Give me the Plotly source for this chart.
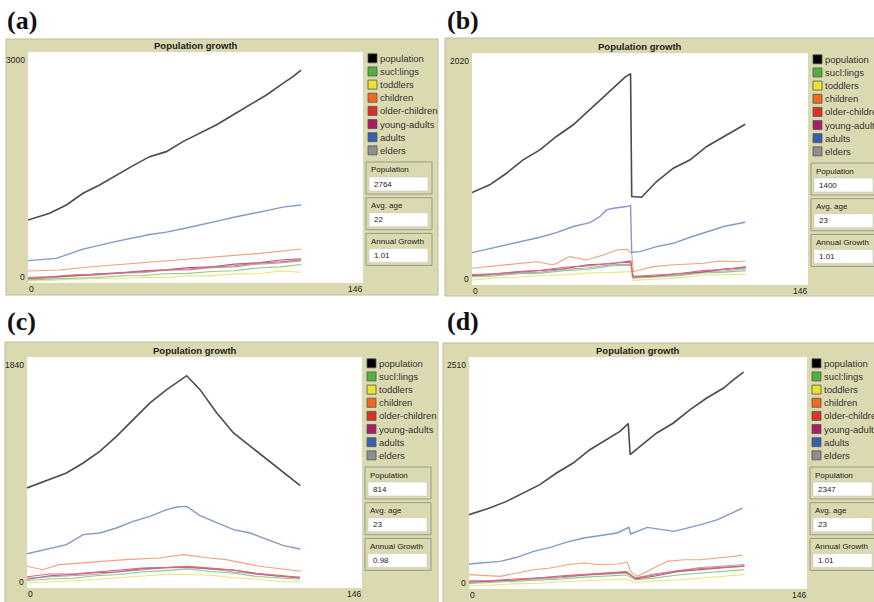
import plotly.graph_objects as go

W, H = 874, 602

# ---------------- data ----------------
legend_names = ["population", "sucl:lings", "toddlers", "children",
                "older-children", "young-adults", "adults", "elders"]
legend_colors = ["#000000", "#4fb23c", "#e8e431", "#f06a1e",
                 "#d8322a", "#a81c6a", "#3460b0", "#8e8e8e"]
line_colors = {"population": "#4b4b4b", "sucl:lings": "#8cca8a", "toddlers": "#ebe57c",
               "children": "#efa27c", "older-children": "#dc6a6e", "young-adults": "#b45a92",
               "adults": "#8299c9", "elders": "#a9a9b4"}

panel_labels = ["(a)", "(b)", "(c)", "(d)"]
y_max = [3000, 2020, 1840, 2510]
x_max = 146
monitor_titles = ["Population", "Avg. age", "Annual Growth"]
monitor_values = [["2764", "22", "1.01"], ["1400", "23", "1.01"],
                  ["814", "23", "0.98"], ["2347", "23", "1.01"]]

# panel (a)
a_t_pop = [0, 9.4, 16.7, 24, 31.2, 38.5, 45.8, 53, 60.3, 67.5, 74.8, 82, 89.3, 96.6, 103.9, 111.1, 115.5, 119]
a_pop = [818, 905, 1013, 1165, 1273, 1403, 1524, 1641, 1706, 1836, 1944, 2052, 2182, 2312, 2442, 2593, 2680, 2764]
a_t_adults = [0, 12.3, 24, 38.5, 53, 60.3, 67.5, 74.8, 82, 89.3, 96.6, 103.9, 111.1, 119]
a_adults = [290, 320, 440, 540, 630, 660, 705, 750, 800, 850, 895, 945, 985, 1013]
a_t_children = [0, 13.5, 28, 42.6, 57, 71.6, 78.9, 86, 100.7, 115, 119]
a_children = [156, 169, 212, 247, 277, 307, 333, 342, 385, 429, 441]
a_t_small = [0, 10, 20, 30, 40, 50, 60, 70, 80, 90, 100, 110, 119]
a_sucklings = [40, 48, 65, 72, 92, 98, 120, 125, 150, 160, 195, 210, 240]
a_toddlers = [25, 35, 42, 58, 55, 75, 72, 95, 92, 118, 120, 155, 140]
a_older = [75, 82, 105, 112, 135, 148, 172, 182, 210, 225, 260, 275, 300]
a_young = [55, 80, 92, 118, 128, 158, 170, 200, 212, 245, 262, 298, 315]
a_elders = [60, 66, 92, 100, 128, 135, 165, 170, 200, 210, 245, 260, 285]

# panel (b)
b_t_pop = [0, 7.7, 15, 22.2, 29.5, 36.7, 44, 51.2, 58.5, 62.9, 66.5, 68.9, 69.4, 73.7, 80.2, 87.5, 94.8, 102, 109.3, 118.7]
b_pop = [805, 872, 973, 1090, 1177, 1293, 1395, 1526, 1656, 1744, 1810, 1840, 770, 764, 901, 1017, 1090, 1206, 1293, 1400]
b_t_adults = [0, 15, 29.5, 36.7, 44, 51.2, 55.6, 58.5, 61.4, 67.2, 68.9, 69.4, 73, 80.2, 87.5, 94.8, 102, 109.3, 118.7]
b_adults = [282, 349, 416, 456, 509, 543, 596, 654, 668, 683, 692, 285, 291, 334, 363, 416, 465, 509, 546]
b_t_children = [0, 13.5, 28, 35.3, 42.5, 49.8, 57, 62.9, 67.2, 69.4, 70.1, 78.8, 86.1, 100.6, 107.8, 115.1, 118.7]
b_children = [146, 174, 203, 174, 247, 218, 262, 305, 311, 276, 116, 160, 174, 189, 209, 203, 209]
b_t_small = [0, 10, 20, 30, 40, 50, 60, 69, 70, 80, 90, 100, 110, 119]
b_sucklings = [70, 78, 98, 102, 125, 135, 165, 172, 60, 72, 82, 105, 112, 125]
b_toddlers = [45, 62, 68, 85, 88, 105, 108, 118, 40, 52, 62, 85, 88, 95]
b_older = [92, 98, 118, 128, 155, 165, 190, 198, 75, 88, 98, 125, 135, 160]
b_young = [82, 98, 108, 130, 142, 175, 185, 210, 70, 78, 100, 112, 140, 150]
b_elders = [80, 88, 105, 112, 138, 148, 175, 182, 65, 78, 88, 115, 122, 145]

# panel (c)
c_t_main = [0, 9.9, 17.2, 24.5, 31.7, 39, 46.3, 53.6, 60.9, 65.2, 69.6, 75.4, 82.7, 90, 97.3, 104.5, 111.8, 119.1]
c_pop = [797, 863, 916, 996, 1089, 1208, 1341, 1474, 1580, 1633, 1691, 1580, 1394, 1235, 1128, 1022, 916, 815]
c_adults = [273, 311, 345, 425, 438, 478, 531, 571, 624, 645, 650, 576, 518, 465, 438, 385, 337, 311]
c_t_children = [0, 6.7, 14, 28.5, 43, 57.6, 68, 79.5, 86.8, 101.3, 115.8, 119.5]
c_children = [173, 146, 186, 207, 226, 239, 266, 239, 226, 173, 141, 133]
c_t_small = [0, 10, 20, 30, 40, 50, 60, 70, 80, 90, 100, 110, 119]
c_sucklings = [60, 72, 78, 98, 108, 128, 138, 152, 132, 118, 92, 82, 70]
c_toddlers = [40, 48, 62, 68, 82, 92, 108, 108, 102, 82, 72, 52, 50]
c_older = [90, 112, 112, 128, 138, 158, 162, 172, 158, 142, 118, 102, 85]
c_young = [70, 98, 108, 122, 128, 154, 162, 168, 152, 143, 112, 98, 80]
c_elders = [80, 88, 102, 108, 132, 142, 162, 162, 152, 128, 112, 92, 85]

# panel (d)
d_t_pop = [0, 8.9, 16.2, 23.4, 30.6, 37.8, 45, 52.2, 59.5, 65.2, 68.8, 69.6, 73.9, 81.1, 88.3, 95.5, 102.7, 110, 114.3, 118.6]
d_pop = [804, 876, 948, 1039, 1129, 1255, 1363, 1507, 1615, 1706, 1789, 1453, 1543, 1688, 1796, 1940, 2066, 2174, 2265, 2347]
d_t_adults = [0, 13.5, 20.7, 27.9, 35.1, 42.3, 49.6, 56.8, 64, 69.1, 69.8, 77, 82.8, 88.6, 100.2, 107.4, 118.2]
d_adults = [270, 299, 343, 407, 451, 508, 552, 577, 606, 667, 595, 667, 642, 624, 696, 750, 876]
d_t_children = [0, 13.5, 27.9, 35.1, 42.3, 49.6, 56.8, 64, 68.4, 69.8, 72.7, 78.5, 85.7, 93, 100.2, 107.4, 114.6, 118.2]
d_children = [155, 137, 209, 227, 263, 281, 263, 270, 292, 191, 137, 209, 299, 317, 317, 335, 353, 364]
d_t_small = [0, 10, 20, 30, 40, 50, 60, 68, 72, 80, 90, 100, 110, 119]
d_sucklings = [60, 72, 78, 98, 108, 128, 138, 152, 100, 118, 152, 172, 198, 210]
d_toddlers = [40, 42, 58, 62, 78, 88, 102, 108, 70, 88, 98, 122, 138, 155]
d_older = [90, 92, 108, 118, 142, 158, 182, 188, 115, 152, 198, 222, 232, 245]
d_young = [75, 88, 98, 122, 132, 152, 168, 182, 110, 138, 188, 208, 232, 250]
d_elders = [70, 82, 92, 112, 122, 148, 158, 172, 120, 162, 198, 232, 248, 265]

panels_data = [
    [("toddlers", a_t_small, a_toddlers), ("sucl:lings", a_t_small, a_sucklings),
     ("elders", a_t_small, a_elders), ("young-adults", a_t_small, a_young),
     ("older-children", a_t_small, a_older), ("children", a_t_children, a_children),
     ("adults", a_t_adults, a_adults), ("population", a_t_pop, a_pop)],
    [("toddlers", b_t_small, b_toddlers), ("sucl:lings", b_t_small, b_sucklings),
     ("elders", b_t_small, b_elders), ("young-adults", b_t_small, b_young),
     ("older-children", b_t_small, b_older), ("children", b_t_children, b_children),
     ("adults", b_t_adults, b_adults), ("population", b_t_pop, b_pop)],
    [("toddlers", c_t_small, c_toddlers), ("sucl:lings", c_t_small, c_sucklings),
     ("elders", c_t_small, c_elders), ("young-adults", c_t_small, c_young),
     ("older-children", c_t_small, c_older), ("children", c_t_children, c_children),
     ("adults", c_t_main, c_adults), ("population", c_t_main, c_pop)],
    [("toddlers", d_t_small, d_toddlers), ("sucl:lings", d_t_small, d_sucklings),
     ("elders", d_t_small, d_elders), ("young-adults", d_t_small, d_young),
     ("older-children", d_t_small, d_older), ("children", d_t_children, d_children),
     ("adults", d_t_adults, d_adults), ("population", d_t_pop, d_pop)],
]

# ---------------- geometry (pixels) ----------------
plot_boxes = [(28, 52, 363, 283), (472, 53, 808, 285), (27, 357, 362, 588), (469, 357, 807, 589)]
frame_boxes = [(6, 39, 438, 295), (445, 38, 880, 296), (5, 342, 438, 606), (443, 343, 880, 606)]
label_pos = [(5, 21), (445, 21), (5, 322), (445, 322)]

FRAME = "#dbd9b0"
FRAME_EDGE = "#bdbca0"
FONT = "Liberation Sans, Arial, sans-serif"
TXT = "#222222"


def px(x):
    return x / W


def py(y):
    return 1 - y / H


fig = go.Figure()
shapes = []
annotations = []
layout_axes = {}

for i in range(4):
    x0, y0, x1, y1 = plot_boxes[i]
    fx0, fy0, fx1, fy1 = frame_boxes[i]
    n = i + 1
    xa = "x" if n == 1 else f"x{n}"
    ya = "y" if n == 1 else f"y{n}"
    layout_axes[f"xaxis{'' if n == 1 else n}"] = dict(
        domain=[px(x0), px(x1)], range=[0, x_max], showgrid=False, zeroline=False,
        showticklabels=False, showline=False, ticks="", anchor=ya, fixedrange=True)
    layout_axes[f"yaxis{'' if n == 1 else n}"] = dict(
        domain=[py(y1), py(y0)], range=[0, y_max[i]], showgrid=False, zeroline=False,
        showticklabels=False, showline=False, ticks="", anchor=xa, fixedrange=True)

    shapes.append(dict(type="rect", xref="paper", yref="paper", layer="below",
                       x0=px(fx0), x1=px(fx1), y0=py(fy1), y1=py(fy0),
                       fillcolor=FRAME, line=dict(color=FRAME_EDGE, width=1)))
    shapes.append(dict(type="rect", xref="paper", yref="paper", layer="below",
                       x0=px(x0), x1=px(x1), y0=py(y1), y1=py(y0),
                       fillcolor="white", line=dict(width=0)))

    annotations.append(dict(xref="paper", yref="paper", x=px(label_pos[i][0]), y=py(label_pos[i][1]),
                            text="<b>" + panel_labels[i] + "</b>", showarrow=False,
                            xanchor="left", yanchor="middle",
                            font=dict(family="Liberation Serif, Times New Roman, serif", size=26, color="#111")))
    annotations.append(dict(xref="paper", yref="paper", x=px((x0 + x1) / 2), y=py(y0 - 6.5),
                            text="<b>Population growth</b>", showarrow=False, xanchor="center",
                            yanchor="middle", font=dict(family=FONT, size=9.5, color=TXT)))
    annotations.append(dict(xref="paper", yref="paper", x=px(x0 - 1), y=py(y0 + 8),
                            text=str(y_max[i]), showarrow=False, xanchor="right", yanchor="middle",
                            font=dict(family=FONT, size=8.5, color=TXT)))
    annotations.append(dict(xref="paper", yref="paper", x=px(x0 - 1), y=py(y1 - 6),
                            text="0", showarrow=False, xanchor="right", yanchor="middle",
                            font=dict(family=FONT, size=8.5, color=TXT)))
    annotations.append(dict(xref="paper", yref="paper", x=px(x0 - 1), y=py(y1 + 6),
                            text="0", showarrow=False, xanchor="left", yanchor="middle",
                            font=dict(family=FONT, size=8.5, color=TXT)))
    annotations.append(dict(xref="paper", yref="paper", x=px(x1 + 1), y=py(y1 + 6),
                            text=str(x_max), showarrow=False, xanchor="right", yanchor="middle",
                            font=dict(family=FONT, size=8.5, color=TXT)))

    lx = x1 + 5
    for k, (name, col) in enumerate(zip(legend_names, legend_colors)):
        cy = y0 + 6.3 + k * 13.15
        shapes.append(dict(type="rect", xref="paper", yref="paper",
                           x0=px(lx), x1=px(lx + 9), y0=py(cy + 4.5), y1=py(cy - 4.5),
                           fillcolor=col, line=dict(color="#555555", width=0.8)))
        annotations.append(dict(xref="paper", yref="paper", x=px(lx + 10), y=py(cy),
                                text=name, showarrow=False, xanchor="left", yanchor="middle",
                                font=dict(family=FONT, size=9.5, color="#333333")))

    mx0 = x1 + 3
    for k, (mt, mv) in enumerate(zip(monitor_titles, monitor_values[i])):
        top = y0 + 110 + k * 35.7
        shapes.append(dict(type="rect", xref="paper", yref="paper",
                           x0=px(mx0), x1=px(mx0 + 66), y0=py(top + 32), y1=py(top),
                           fillcolor=FRAME, line=dict(color="#9a9a88", width=1)))
        shapes.append(dict(type="rect", xref="paper", yref="paper",
                           x0=px(mx0 + 3), x1=px(mx0 + 62), y0=py(top + 29), y1=py(top + 15),
                           fillcolor="white", line=dict(color="#c8c8b8", width=0.6)))
        annotations.append(dict(xref="paper", yref="paper", x=px(mx0 + 3), y=py(top + 8),
                                text=mt, showarrow=False, xanchor="left", yanchor="middle",
                                font=dict(family=FONT, size=8, color=TXT)))
        annotations.append(dict(xref="paper", yref="paper", x=px(mx0 + 6), y=py(top + 22),
                                text=mv, showarrow=False, xanchor="left", yanchor="middle",
                                font=dict(family=FONT, size=8, color=TXT)))

    for name, t, v in panels_data[i]:
        w = 1.6 if name == "population" else (1.4 if name == "adults" else 1.1)
        fig.add_trace(go.Scatter(x=t, y=v, mode="lines", name=name, xaxis=xa, yaxis=ya,
                                 line=dict(color=line_colors[name], width=w),
                                 showlegend=False, hoverinfo="skip"))

fig.update_layout(width=W, height=H, margin=dict(l=0, r=0, t=0, b=0),
                  paper_bgcolor="white", plot_bgcolor="rgba(0,0,0,0)",
                  shapes=shapes, annotations=annotations, showlegend=False, **layout_axes)

fig.write_html("out.html", config={"displayModeBar": False},
               post_script="document.body.style.margin='0px';document.body.style.overflow='hidden';")
